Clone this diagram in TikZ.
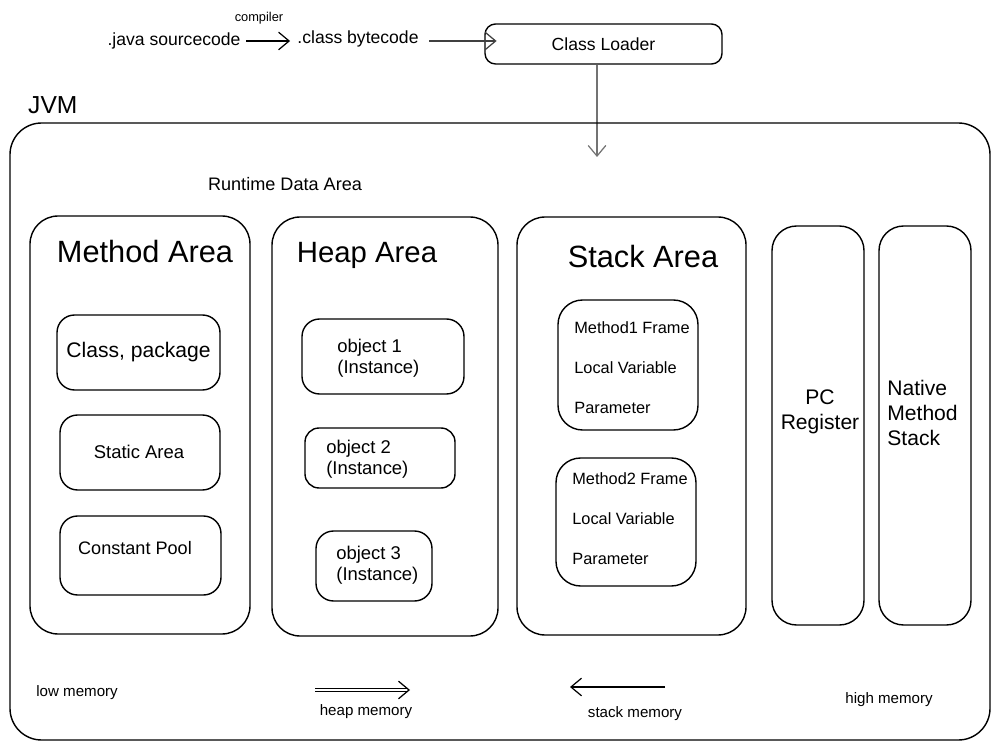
\documentclass[tikz,border=0pt]{standalone}
\usepackage{fontspec}
\setmainfont{Liberation Sans}
\usetikzlibrary{fit,arrows.meta}
\begin{document}
\begin{tikzpicture}[x=0.02cm,y=-0.02cm,
  box/.style={draw, line width=0.8pt, rounded corners=#1, inner sep=0pt},
  box/.default=14pt,
  arr/.style={draw, line width=0.7pt, -{Straight Barb[length=6pt,width=10pt]}},
  lbl/.style={font=\fontsize{9.3}{11}\selectfont, anchor=west, inner sep=0pt},
  obj/.style={font=\fontsize{10.5}{12}\selectfont, anchor=west, align=left, inner sep=0pt},
  mid/.style={font=\fontsize{12}{14}\selectfont, align=center, inner sep=0pt},
  small/.style={font=\fontsize{8.6}{10}\selectfont, inner sep=0pt}]
\useasboundingbox[fill=white] (0,0) rectangle (1000,749);

% top row
\node[font=\fontsize{10}{12}\selectfont, inner sep=1pt] (java) at (174,41) {.java sourcecode};
\node[font=\fontsize{10}{12}\selectfont, inner sep=1pt] (cls) at (358,39) {.class bytecode};
\node[font=\fontsize{7.3}{8}\selectfont] (comp) at (259,18) {compiler};
\node[box=6pt, fit={(485,24)(722,64)}] (loader) {};
\node[font=\fontsize{10}{12}\selectfont] at (loader) {Class Loader};
\draw[arr, shorten <=2pt, shorten >=3pt] (java.east) -- (cls.west |- java.east);
\draw[arr, draw=black!75, shorten <=5pt, shorten >=-7pt] (cls.east |- java.east) -- (loader.west |- java.east);
\coordinate (entry) at (597,157);
\draw[arr, draw=black!55] (loader.south -| entry) -- (entry);

% JVM
\node[font=\fontsize{14}{16}\selectfont, anchor=west] (jvm) at (22,105) {JVM};
\node[box=18pt, fit={(10,123)(990,740)}] (outer) {};
\node[font=\fontsize{10.3}{12}\selectfont] (rda) at (285,184) {Runtime Data Area};

% Method Area
\node[box=16pt, fit={(30,216)(250,634)}] (method) {};
\node[font=\fontsize{17.5}{20}\selectfont] at (145,252) {Method Area};
\node[box=10pt, fit={(57,315)(220,390)}] (cp) {};
\node[mid] at (cp) {Class, package};
\node[box=10pt, fit={(60,415)(220,490)}] (sa) {};
\node[font=\fontsize{10.5}{12}\selectfont] at (139,452) {Static Area};
\node[box=10pt, fit={(60,516)(221,595)}] (pool) {};
\node[font=\fontsize{10.3}{12}\selectfont] at (135,548) {Constant Pool};

% Heap Area
\node[box=16pt, fit={(272,217)(498,636)}] (heap) {};
\node[font=\fontsize{16.7}{20}\selectfont] at (367,255) {Heap Area};
\node[box=10pt, fit={(302,319)(464,394)}] (o1) {};
\node[obj] at (337,358) {object 1\\(Instance)};
\node[box=8pt, fit={(305,428)(455,488)}] (o2) {};
\node[obj] at (326,459) {object 2\\(Instance)};
\node[box=10pt, fit={(316,531)(432,601)}] (o3) {};
\node[obj] at (336,565) {object 3\\(Instance)};

% Stack Area
\node[box=16pt, fit={(517,217)(746,635)}] (stack) {};
\node[font=\fontsize{17.5}{20}\selectfont] at (643,257) {Stack Area};
\node[box=14pt, fit={(558,300)(698,430)}] (f1) {};
\node[lbl] at (574,328) {Method1 Frame};
\node[lbl] at (574,368) {Local Variable};
\node[lbl] at (574,408) {Parameter};
\node[box=14pt, fit={(556,458)(696,586)}] (f2) {};
\node[lbl] at (572,479) {Method2 Frame};
\node[lbl] at (572,519) {Local Variable};
\node[lbl] at (572,559) {Parameter};

% PC Register / Native Method Stack
\node[box=14pt, fit={(772,226)(864,625)}] (pc) {};
\node[mid] at (820,412) {PC\\Register};
\node[box=14pt, fit={(879,226)(971,625)}] (nms) {};
\node[mid, align=left, anchor=west] at (887,413) {Native\\Method\\Stack};

% bottom
\node[small, anchor=west] (low) at (36,693) {low memory};
\node[small, anchor=west] (high) at (845,700) {high memory};
\coordinate (h1) at (315,690);
\coordinate (h2) at (410,690);
\draw[arr, double, double distance=1.2pt] (h1) -- (h2);
\node[small] (hm) at (366,712) {heap memory};
\coordinate (s1) at (665,687);
\coordinate (s2) at (570,687);
\draw[arr] (s1) -- (s2);
\node[small] (sm) at (635,714) {stack memory};
\end{tikzpicture}
\end{document}
